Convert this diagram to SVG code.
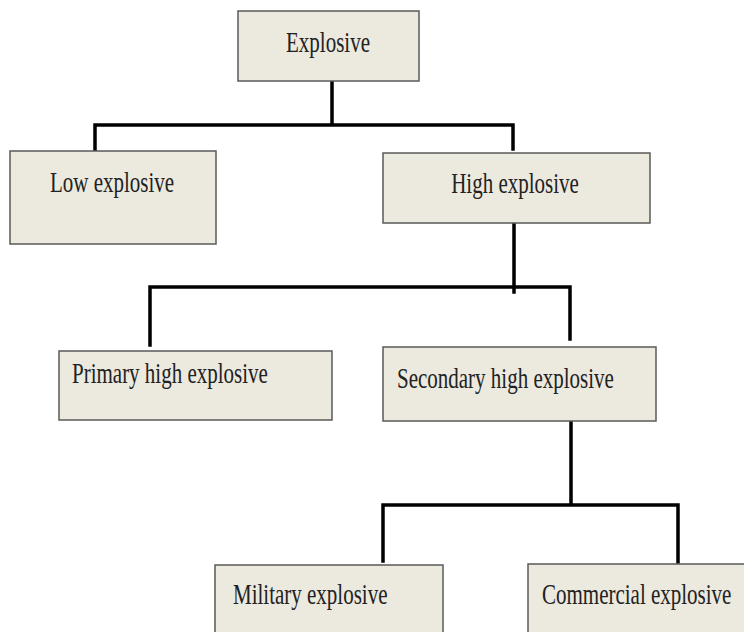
<svg xmlns="http://www.w3.org/2000/svg" width="744" height="632" viewBox="0 0 744 632">
<style>
.box{fill:#ECE9DF;stroke:#5a5a5a;stroke-width:1.5}
.t{font-family:"Liberation Serif","Times New Roman",serif;font-size:21px;fill:#222}
.c{fill:none;stroke:#000;stroke-width:3.5;stroke-linecap:square}
</style>
<rect width="744" height="632" fill="#fff"/>
<g id="connectors">
<path class="c" d="M332,81 V125 M95,151 V125 H513 V149"/>
<path class="c" d="M514,223 V292 M150,345 V287 H570 V339"/>
<path class="c" d="M571,421 V505 M383,561 V505 H678 V562"/>
</g>
<g id="explosive"><rect class="box" x="238" y="11" width="181" height="70"/><text class="t" text-anchor="middle" transform="translate(328,52) scale(1,1.4)">Explosive</text></g>
<g id="low"><rect class="box" x="10" y="151" width="206" height="93"/><text class="t" transform="translate(50,192) scale(1,1.4)">Low explosive</text></g>
<g id="high"><rect class="box" x="383" y="153" width="267" height="70"/><text class="t" text-anchor="middle" transform="translate(515,193) scale(1,1.4)">High explosive</text></g>
<g id="primary"><rect class="box" x="59" y="351" width="273" height="69"/><text class="t" transform="translate(72,383) scale(1,1.4)">Primary high explosive</text></g>
<g id="secondary"><rect class="box" x="383" y="347" width="273" height="74"/><text class="t" transform="translate(397,388) scale(1,1.4)">Secondary high explosive</text></g>
<g id="military"><rect class="box" x="215" y="565" width="228" height="80"/><text class="t" transform="translate(233,604) scale(1,1.4)">Military explosive</text></g>
<g id="commercial"><rect class="box" x="528" y="564" width="230" height="80"/><text class="t" transform="translate(542,604) scale(1,1.4)">Commercial explosive</text></g>
</svg>
